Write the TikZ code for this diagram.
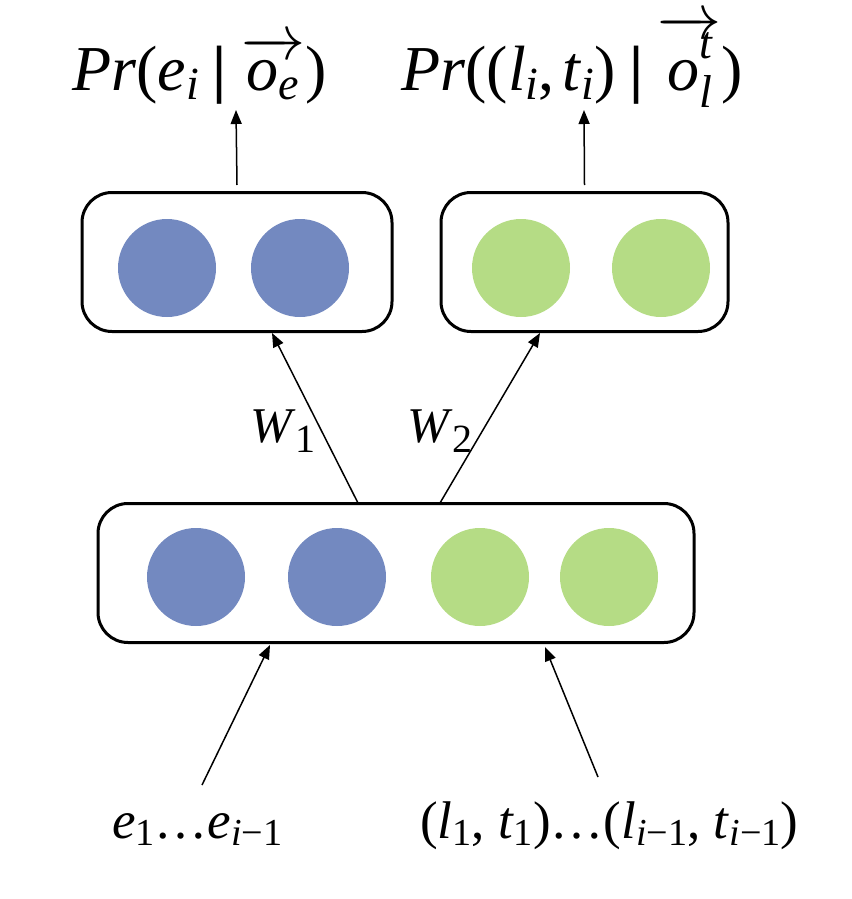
\RequirePackage{fix-cm}
\documentclass[tikz,border=0pt]{standalone}
\usepackage{amsmath}
\usepackage{graphicx}
\usepackage{fontspec}
\setmainfont{Liberation Serif}
\usetikzlibrary{arrows.meta}
\definecolor{cblue}{RGB}{115,137,192}
\definecolor{cgreen}{RGB}{181,220,133}
\newcommand\lo[1]{\raisebox{-0.15em}{\scalebox{0.72}{#1}}}
\newcommand\loo[1]{\raisebox{-0.27em}{\scalebox{0.72}{#1}}}
\newcommand\hi[1]{\raisebox{0.5em}[0.8em]{\scalebox{0.72}{#1}}}
\newcommand\vecarrow[1]{$\overrightarrow{\text{#1}}$}
\tikzset{
  layerbox/.style={draw, line width=3pt, rounded corners=30pt, minimum height=139pt, inner sep=0pt},
  unitb/.style={circle, fill=cblue, minimum size=98pt, inner sep=0pt},
  unitg/.style={circle, fill=cgreen, minimum size=98pt, inner sep=0pt},
  conn/.style={line width=1.5pt, -{Triangle[length=14pt,width=11pt]}},
  biglab/.style={font=\fontsize{64}{70}\selectfont, inner sep=0pt, anchor=base west},
  midlab/.style={font=\fontsize{50}{60}\selectfont, inner sep=0pt, anchor=base west},
  lowlab/.style={font=\fontsize{53}{60}\selectfont, inner sep=0pt, anchor=base west}
}
\begin{document}
\begin{tikzpicture}[x=1pt,y=-1pt]
\useasboundingbox (0,0) rectangle (851,899);
% boxes
\node[layerbox, minimum width=310pt] (tl) at (237,262) {};
\node[layerbox, minimum width=287pt] (tr) at (584.5,262) {};
\node[layerbox, minimum width=596pt] (bot) at (396,573) {};
% circles
\node[unitb] (c1) at (167,268) {};
\node[unitb] (c2) at (300,268) {};
\node[unitg] (c3) at (521,268) {};
\node[unitg] (c4) at (661,268) {};
\node[unitb] (d1) at (196,577) {};
\node[unitb] (d2) at (337,577) {};
\node[unitg] (d3) at (480,577) {};
\node[unitg] (d4) at (609,577) {};
% labels
\node[biglab] (pl) at (72,90) {\textit{Pr}(\textit{e}\lo{\textit{i}}\hspace{0.22em}\textbf{|}\hspace{0.22em}\vecarrow{\textit{o}\lo{\textit{e}}})};
\node[biglab] (pr) at (401,90) {\textit{Pr}((\textit{l}\lo{\textit{i}},\hspace{0.12em}\textit{t}\lo{\textit{i}})\hspace{0.22em}\textbf{|}\hspace{0.22em}\vecarrow{\textit{o}\rlap{\hi{\textit{t}}}\loo{\textit{l}}})};
\node[midlab] (w1) at (250,442) {\textit{W}\raisebox{-0.2em}{\scalebox{0.8}{1}}};
\node[midlab] (w2) at (407,442) {\textit{W}\raisebox{-0.2em}{\scalebox{0.8}{2}}};
\node[lowlab] (el) at (112,838) {\textit{e}\lo{1}…\textit{e}\lo{\textit{i}−1}};
\node[lowlab] (lt) at (420,838) {(\textit{l}\lo{1},\hspace{0.25em}\textit{t}\lo{1})…(\textit{l}\lo{\textit{i}−1},\hspace{0.25em}\textit{t}\lo{\textit{i}−1})};
% connector ends
\coordinate (tlo) at (236,110);
\coordinate (tro) at (584,110);
\coordinate (s1) at (358,503);
\coordinate (s2) at (440,503);
\coordinate (t1) at (272,333);
\coordinate (t2) at (540,333);
\coordinate (e0) at (202,785);
\coordinate (l0) at (598,777);
\coordinate (b1) at (270,645);
\coordinate (b2) at (545,647);
% connectors
\draw[conn] ([yshift=6pt]tl.north) -- (tlo);
\draw[conn] ([yshift=6pt]tr.north) -- (tro);
\draw[conn] (s1) -- (t1);
\draw[conn] (s2) -- (t2);
\draw[conn] (e0) -- (b1);
\draw[conn] (l0) -- (b2);
\end{tikzpicture}
\end{document}
